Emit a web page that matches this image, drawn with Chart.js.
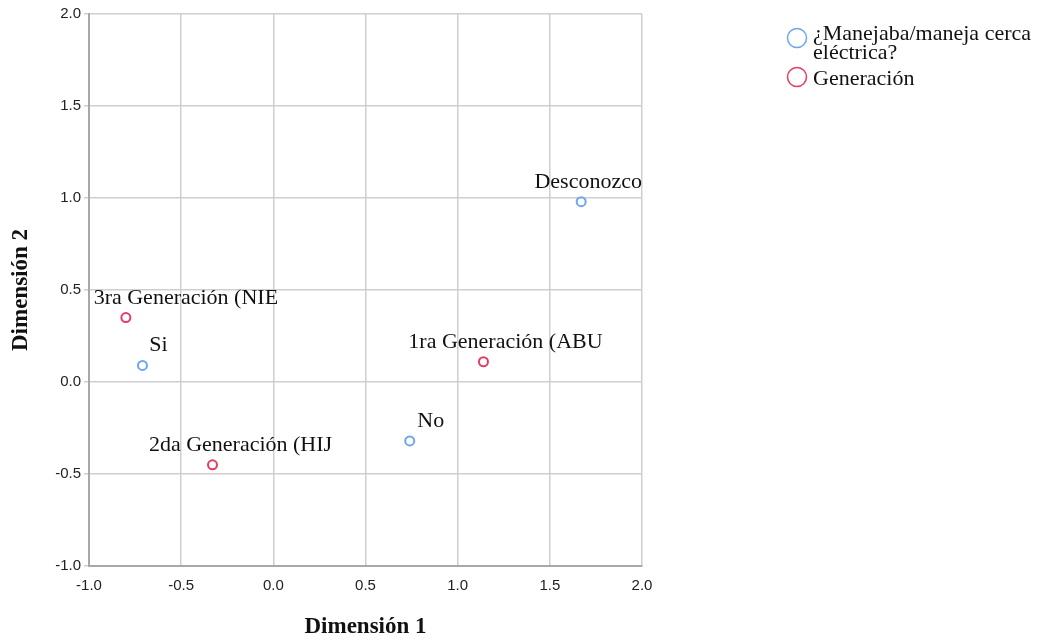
<!DOCTYPE html>
<html>
<head>
<meta charset="utf-8">
<script src="https://cdn.jsdelivr.net/npm/chart.js@4"></script>
<style>
  html, body { margin: 0; padding: 0; background: #fff; }
  #wrap { width: 1047px; height: 639px; }
</style>
</head>
<body>
<div id="wrap"><canvas id="chart" width="1047" height="639"></canvas></div>
<script>
  // puntos de categoria (Dimension 1, Dimension 2)
  const manejaLabels = ['Desconozco', 'Si', 'No'];
  const manejaX = [1.67, -0.71, 0.74];
  const manejaY = [0.98, 0.09, -0.32];

  const generacionLabels = ['3ra Generación (NIE', '1ra Generación (ABU', '2da Generación (HIJ'];
  const generacionX = [-0.80, 1.14, -0.33];
  const generacionY = [0.35, 0.11, -0.45];

  const seriesNames = ['¿Manejaba/maneja cerca eléctrica?', 'Generación'];
  const axisTicks = [-1.0, -0.5, 0.0, 0.5, 1.0, 1.5, 2.0];

  const BLUE = '#6ea6ee';
  const RED = '#e43d62';
  const SERIF = '"Liberation Serif", "Times New Roman", serif';

  // desplazamiento horizontal de las etiquetas (px, respecto del centro del punto)
  const labelShift = {
    'Desconozco': 7, 'Si': 16, 'No': 21,
    '3ra Generación (NIE': 60, '1ra Generación (ABU': 22, '2da Generación (HIJ': 28
  };

  const toPoints = (xs, ys, names) => xs.map((x, i) => ({ x: x, y: ys[i], name: names[i] }));

  const pointLabels = {
    id: 'pointLabels',
    afterDatasetsDraw(chart) {
      const ctx = chart.ctx;
      const area = chart.chartArea;
      ctx.save();
      ctx.beginPath();
      ctx.rect(area.left + 2, area.top, area.right - area.left - 1, area.bottom - area.top);
      ctx.clip();
      ctx.font = '22px ' + SERIF;
      ctx.fillStyle = '#111';
      ctx.textAlign = 'center';
      ctx.textBaseline = 'alphabetic';
      chart.data.datasets.forEach((ds, di) => {
        chart.getDatasetMeta(di).data.forEach((el, i) => {
          const name = ds.data[i].name;
          ctx.fillText(name, el.x + (labelShift[name] || 0), el.y - 14);
        });
      });
      ctx.restore();
    }
  };

  const sideLegend = {
    id: 'sideLegend',
    afterDraw(chart) {
      const ctx = chart.ctx;
      const ds = chart.data.datasets;
      ctx.save();
      ctx.lineWidth = 1.5;
      ctx.font = '22px ' + SERIF;
      ctx.fillStyle = '#111';
      ctx.textAlign = 'left';
      ctx.textBaseline = 'alphabetic';
      // primera serie: dos lineas
      ctx.strokeStyle = ds[0].borderColor;
      ctx.beginPath(); ctx.arc(797, 38, 9.5, 0, Math.PI * 2); ctx.stroke();
      ctx.fillText('¿Manejaba/maneja cerca', 813, 40);
      ctx.fillText('eléctrica?', 813, 59);
      ctx.strokeStyle = ds[1].borderColor;
      ctx.beginPath(); ctx.arc(797, 77, 9.5, 0, Math.PI * 2); ctx.stroke();
      ctx.fillText(ds[1].label, 813, 85);
      ctx.restore();
    }
  };

  const axisTitles = {
    id: 'axisTitles',
    afterDraw(chart) {
      const ctx = chart.ctx;
      const area = chart.chartArea;
      ctx.save();
      ctx.font = 'bold 23px ' + SERIF;
      ctx.fillStyle = '#111';
      ctx.textAlign = 'center';
      ctx.textBaseline = 'middle';
      ctx.fillText('Dimensión 1', (area.left + area.right) / 2, 627);
      ctx.translate(21, (area.top + area.bottom) / 2);
      ctx.rotate(-Math.PI / 2);
      ctx.fillText('Dimensión 2', 0, 0);
      ctx.restore();
    }
  };

  const gridColor = '#cfcfcf';
  const tickFont = { family: '"Liberation Sans", Arial, sans-serif', size: 15 };

  new Chart(document.getElementById('chart'), {
    type: 'scatter',
    data: {
      datasets: [
        {
          label: seriesNames[0],
          data: toPoints(manejaX, manejaY, manejaLabels),
          borderColor: BLUE,
          backgroundColor: 'rgba(0,0,0,0)',
          borderWidth: 2,
          pointRadius: 4.5,
          pointHoverRadius: 4.5
        },
        {
          label: seriesNames[1],
          data: toPoints(generacionX, generacionY, generacionLabels),
          borderColor: RED,
          backgroundColor: 'rgba(0,0,0,0)',
          borderWidth: 2,
          pointRadius: 4.5,
          pointHoverRadius: 4.5
        }
      ]
    },
    options: {
      responsive: false,
      animation: false,
      events: [],
      layout: { padding: { top: 14, right: 405, left: 0, bottom: 0 } },
      plugins: {
        legend: { display: false },
        tooltip: { enabled: false }
      },
      scales: {
        x: {
          type: 'linear',
          min: -1, max: 2,
          afterBuildTicks: (scale) => { scale.ticks = axisTicks.map(v => ({ value: v })); },
          afterFit: (scale) => { scale.height = 73; },
          border: { color: '#a8a8a8', width: 2 },
          grid: { color: gridColor, lineWidth: 1.5, drawTicks: false },
          ticks: {
            padding: 11,
            color: '#222',
            font: tickFont,
            callback: (v) => v.toFixed(1)
          }
        },
        y: {
          type: 'linear',
          min: -1, max: 2,
          afterBuildTicks: (scale) => { scale.ticks = axisTicks.map(v => ({ value: v })); },
          afterFit: (scale) => { scale.width = 89; },
          border: { color: '#a8a8a8', width: 2 },
          grid: { color: gridColor, lineWidth: 1.5, tickLength: 5 },
          ticks: {
            padding: 3,
            color: '#222',
            font: tickFont,
            callback: (v) => v.toFixed(1)
          }
        }
      }
    },
    plugins: [pointLabels, sideLegend, axisTitles]
  });
</script>
</body>
</html>
